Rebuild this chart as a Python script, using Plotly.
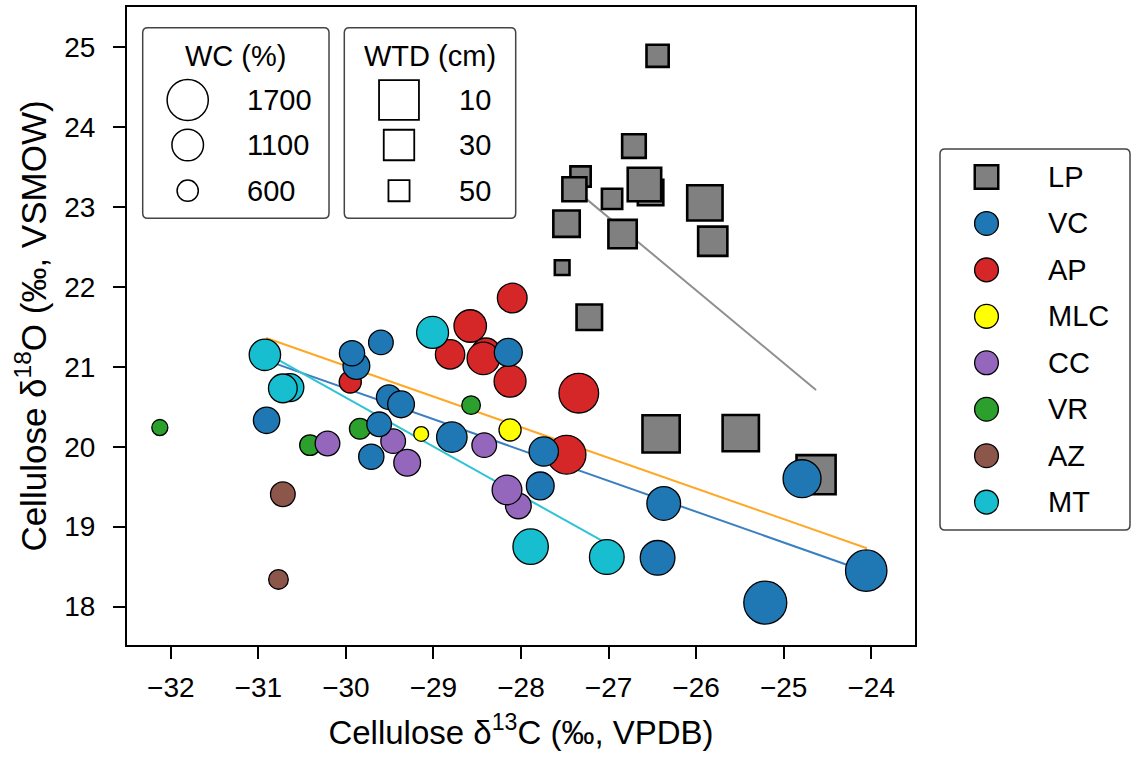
import numpy as np
import plotly.graph_objects as go

# ------------------------------------------------------------------ data
categories = ["LP", "VC", "AP", "MLC", "CC", "VR", "AZ", "MT"]
cat_colors = ["#808080", "#1f77b4", "#d62728", "#ffff00", "#9467bd", "#2ca02c", "#8c564b", "#17becf"]

# LP (squares, size = water table depth, cm)
lp_x = [-26.44, -26.71, -27.32, -27.39, -26.96, -26.52, -26.59, -25.90, -25.81, -27.48, -26.84, -27.53, -27.22, -26.40, -25.49, -24.63]
lp_y = [24.89, 23.76, 23.38, 23.22, 23.10, 23.18, 23.28, 23.05, 22.57, 22.79, 22.66, 22.24, 21.62, 20.16, 20.17, 19.65]
lp_wtd = [46, 43, 50, 42, 50, 39, 22, 18, 31, 37, 33, 62, 39, 14, 16, 10]

# circles (size = water content, %)
vc_x = [-30.906, -29.88, -29.93, -29.60, -29.51, -29.37, -29.62, -29.71, -28.79, -28.145, -27.74, -27.78, -26.37, -26.44, -25.21, -24.79, -24.057]
vc_y = [20.33, 21.01, 21.17, 21.305, 20.62, 20.53, 20.28, 19.875, 20.12, 21.18, 19.94, 19.51, 19.29, 18.61, 18.05, 19.60, 18.45]
vc_wc = [820, 840, 770, 740, 740, 840, 740, 770, 1030, 900, 970, 890, 1210, 1270, 1810, 1470, 1700]

ap_x = [-28.10, -28.58, -28.81, -28.40, -28.43, -28.125, -29.95, -27.34, -27.48]
ap_y = [21.86, 21.51, 21.155, 21.18, 21.105, 20.82, 20.81, 20.67, 19.90]
ap_wc = [990, 1140, 970, 940, 1140, 1110, 630, 1580, 1520]

mlc_x = [-29.14, -28.125]
mlc_y = [20.16, 20.21]
mlc_wc = [360, 630]

cc_x = [-30.21, -29.46, -29.30, -28.42, -28.03, -28.16]
cc_y = [20.04, 20.07, 19.80, 20.02, 19.26, 19.46]
cc_wc = [740, 740, 840, 740, 790, 990]

vr_x = [-32.125, -30.41, -29.84, -28.57]
vr_y = [20.24, 20.02, 20.225, 20.52]
vr_wc = [400, 570, 580, 490]

az_x = [-30.72, -30.77]
az_y = [19.405, 18.34]
az_wc = [740, 530]

mt_x = [-30.64, -30.72, -30.925, -29.01, -27.89, -27.02]
mt_y = [20.74, 20.73, 21.15, 21.43, 18.75, 18.62]
mt_wc = [900, 940, 1080, 1110, 1310, 1270]

# trend lines (end points)
lp_fit_x = [-27.53, -24.63]
lp_fit_y = [23.35, 20.71]
vc_fit_x = [-30.91, -24.06]
vc_fit_y = [21.08, 18.44]
mt_fit_x = [-30.925, -27.02]
mt_fit_y = [21.18, 18.79]
all_fit_x = [-30.91, -24.05]
all_fit_y = [21.36, 18.73]

wc_legend_values = [1700, 1100, 600]
wtd_legend_values = [10, 30, 50]
x_tickvals = list(range(-32, -23))
y_tickvals = list(range(18, 26))

# ------------------------------------------------------------------ styling
W, H = 1136, 757
PL, PR, PT, PB = 127, 915, 7, 645
FONT = "Liberation Sans, Arial, Helvetica, sans-serif"
CIRC_LW = 1.3
SQ_LW = 2.6


def wc_size(wc, lw=CIRC_LW):
    return -6.57 + 1.195 * np.sqrt(np.asarray(wc, dtype=float)) - lw


def wtd_size(wtd, lw=SQ_LW):
    return 46.4 - 0.47 * np.asarray(wtd, dtype=float) - lw


fig = go.Figure()

# trend lines (below markers)
for fx, fy, col in [(lp_fit_x, lp_fit_y, "#8f8f8f"), (vc_fit_x, vc_fit_y, "#3a7fc0"),
                    (mt_fit_x, mt_fit_y, "#2ec4d4"), (all_fit_x, all_fit_y, "#ffa726")]:
    fig.add_trace(go.Scatter(x=fx, y=fy, mode="lines", line=dict(color=col, width=2),
                             hoverinfo="skip", showlegend=False))

# LP squares
fig.add_trace(go.Scatter(x=lp_x, y=lp_y, mode="markers", name="LP",
                         marker=dict(symbol="square", size=wtd_size(lp_wtd), color=cat_colors[0], opacity=1,
                                     line=dict(color="black", width=SQ_LW)), showlegend=False))

circle_sets = [("VR", vr_x, vr_y, vr_wc, cat_colors[5]),
               ("AZ", az_x, az_y, az_wc, cat_colors[6]),
               ("CC", cc_x, cc_y, cc_wc, cat_colors[4]),
               ("MLC", mlc_x, mlc_y, mlc_wc, cat_colors[3]),
               ("AP", ap_x, ap_y, ap_wc, cat_colors[2]),
               ("MT", mt_x, mt_y, mt_wc, cat_colors[7]),
               ("VC", vc_x, vc_y, vc_wc, cat_colors[1])]
for name, cx, cy, cw, col in circle_sets:
    fig.add_trace(go.Scatter(x=cx, y=cy, mode="markers", name=name,
                             marker=dict(symbol="circle", size=wc_size(cw), color=col, opacity=1,
                                         line=dict(color="black", width=CIRC_LW)), showlegend=False))

# ------------------------------------------------------------------ legends (overlay pixel axes)
shapes = []
annotations = []


def rounded_box(x0, y0, x1, y1, r=5):
    return (f"M{x0 + r},{y0} L{x1 - r},{y0} Q{x1},{y0} {x1},{y0 + r} L{x1},{y1 - r} "
            f"Q{x1},{y1} {x1 - r},{y1} L{x0 + r},{y1} Q{x0},{y1} {x0},{y1 - r} "
            f"L{x0},{y0 + r} Q{x0},{y0} {x0 + r},{y0} Z")


for bx in [(142.7, 27.7, 329, 218.3), (344.3, 27.7, 515.7, 218.3), (940, 149, 1130, 530)]:
    shapes.append(dict(type="path", path=rounded_box(*bx), xref="x2", yref="y2",
                       line=dict(color="#444444", width=1.5), fillcolor="white", layer="below"))

LEG_FS = 29
row_y = [100, 145, 190.7]
# WC legend
fig.add_trace(go.Scatter(x=[187.7] * 3, y=row_y, xaxis="x2", yaxis="y2", mode="markers",
                         marker=dict(symbol="circle", size=wc_size(wc_legend_values, 1.5), color="white", opacity=1,
                                     line=dict(color="black", width=1.5)),
                         hoverinfo="skip", showlegend=False))
annotations.append(dict(x=235, y=56, xref="x2", yref="y2", text="WC (%)", showarrow=False,
                        xanchor="center", yanchor="middle", font=dict(size=LEG_FS)))
for v, yy in zip(wc_legend_values, row_y):
    annotations.append(dict(x=245, y=yy, xref="x2", yref="y2", text=str(v), showarrow=False,
                            xanchor="left", yanchor="middle", font=dict(size=LEG_FS)))
# WTD legend
fig.add_trace(go.Scatter(x=[399] * 3, y=row_y, xaxis="x2", yaxis="y2", mode="markers",
                         marker=dict(symbol="square", size=wtd_size(wtd_legend_values, 1.8), color="white", opacity=1,
                                     line=dict(color="black", width=1.8)),
                         hoverinfo="skip", showlegend=False))
annotations.append(dict(x=430, y=56, xref="x2", yref="y2", text="WTD (cm)", showarrow=False,
                        xanchor="center", yanchor="middle", font=dict(size=LEG_FS)))
for v, yy in zip(wtd_legend_values, row_y):
    annotations.append(dict(x=456.5, y=yy, xref="x2", yref="y2", text=str(v), showarrow=False,
                            xanchor="left", yanchor="middle", font=dict(size=LEG_FS)))

# category legend
cat_row_y = [177 + 46.45 * i for i in range(len(categories))]
for i, (cat, col) in enumerate(zip(categories, cat_colors)):
    if cat == "LP":
        mk = dict(symbol="square", size=23.5, color=col, opacity=1, line=dict(color="black", width=2.5))
    else:
        mk = dict(symbol="circle", size=23.8, color=col, opacity=1, line=dict(color="black", width=1.3))
    fig.add_trace(go.Scatter(x=[986.5], y=[cat_row_y[i]], xaxis="x2", yaxis="y2", mode="markers",
                             marker=mk, hoverinfo="skip", showlegend=False))
    annotations.append(dict(x=1046, y=cat_row_y[i], xref="x2", yref="y2", text=cat, showarrow=False,
                            xanchor="left", yanchor="middle", font=dict(size=LEG_FS)))

axis_common = dict(showgrid=False, zeroline=False, showline=True, mirror=True, linewidth=2,
                   linecolor="black", ticks="outside", ticklen=12, tickwidth=2, tickcolor="black",
                   tickfont=dict(size=28, family=FONT, color="black"))

fig.update_layout(
    width=W, height=H,
    margin=dict(l=0, r=0, t=0, b=0),
    paper_bgcolor="white", plot_bgcolor="rgba(0,0,0,0)",
    font=dict(family=FONT, color="black"),
    showlegend=False,
    xaxis=dict(domain=[PL / W, PR / W], range=[-32.5, -23.5], tickvals=x_tickvals,
               title=dict(text="Cellulose δ<sup>13</sup>C (‰, VPDB)", font=dict(size=33), standoff=19),
               ticklabelstandoff=4, **axis_common),
    yaxis=dict(domain=[(H - PB) / H, (H - PT) / H], range=[17.52, 25.5], tickvals=y_tickvals,
               title=dict(text="Cellulose δ<sup>18</sup>O (‰, VSMOW)", font=dict(size=35), standoff=7),
               ticklabelstandoff=12, **axis_common),
    xaxis2=dict(domain=[0, 1], range=[0, W], visible=False, anchor="y2", fixedrange=True),
    yaxis2=dict(domain=[0, 1], range=[H, 0], visible=False, anchor="x2", fixedrange=True),
    shapes=shapes, annotations=annotations,
)

fig.write_html("out.html")
